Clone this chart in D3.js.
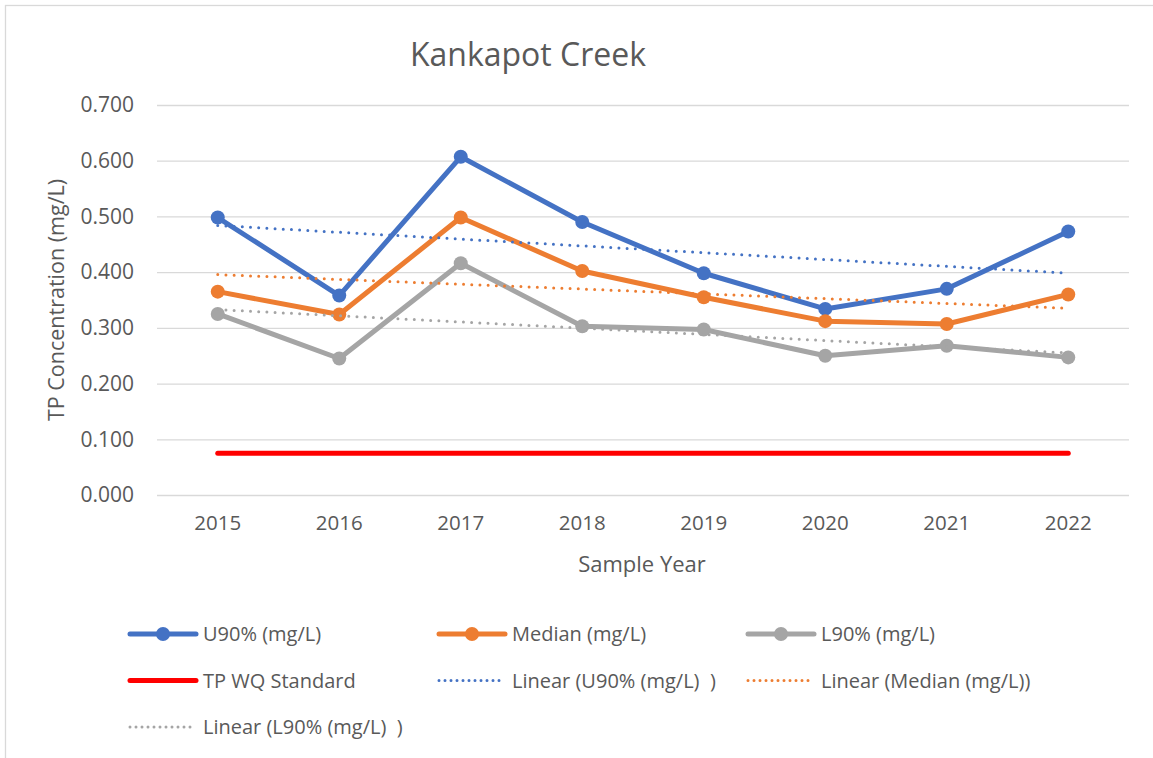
<!DOCTYPE html>
<html>
<head>
<meta charset="utf-8">
<script src="https://cdn.jsdelivr.net/npm/d3@7"></script>
<style>
  body { margin: 0; background: #fff; }
  svg { display: block; font-family: "Open Sans", sans-serif; }
</style>
</head>
<body>
<div id="chart"></div>
<script>
// values
var years = ['2015', '2016', '2017', '2018', '2019', '2020', '2021', '2022'];
var u90 = [0.498, 0.358, 0.607, 0.490, 0.398, 0.334, 0.370, 0.473];
var median = [0.365, 0.324, 0.498, 0.402, 0.355, 0.312, 0.307, 0.360];
var l90 = [0.325, 0.245, 0.416, 0.303, 0.297, 0.250, 0.268, 0.247];
var tpStandard = 0.075;
var yTicks = [0, 0.1, 0.2, 0.3, 0.4, 0.5, 0.6, 0.7];

var width = 1153, height = 758;
var textColor = '#595959';
var gridColor = '#d9d9d9';

var series = [
  { name: 'U90% (mg/L)', values: u90, color: '#4472c4' },
  { name: 'Median (mg/L)', values: median, color: '#ed7d31' },
  { name: 'L90% (mg/L)', values: l90, color: '#a5a5a5' }
];

// least squares trendline, like Excel's "Linear" trendline
function linearFit(vals) {
  var n = vals.length;
  var mx = d3.mean(vals, function(d, i) { return i; });
  var my = d3.mean(vals);
  var num = 0, den = 0;
  vals.forEach(function(v, i) { num += (i - mx) * (v - my); den += (i - mx) * (i - mx); });
  var slope = num / den;
  return [my - slope * mx, my + slope * (n - 1 - mx)];
}

var svg = d3.select('#chart').append('svg')
  .attr('width', width)
  .attr('height', height);

// chart area border
svg.append('rect')
  .attr('x', 5.5).attr('y', 5.5)
  .attr('width', 1160).attr('height', 770)
  .attr('fill', 'none')
  .attr('stroke', gridColor)
  .attr('stroke-width', 1.3);

var plot = { left: 157, right: 1129, top: 105, bottom: 495 };

var x = d3.scaleBand().domain(years).range([plot.left, plot.right]);
var cx = function(i) { return x(years[i]) + x.bandwidth() / 2; };
var y = d3.scaleLinear().domain([0, 0.7]).range([plot.bottom, plot.top]);

// y axis + gridlines
var yAxis = svg.append('g')
  .attr('transform', 'translate(' + plot.left + ',0)')
  .call(d3.axisLeft(y)
    .tickValues(yTicks)
    .tickFormat(d3.format('.3f'))
    .tickSize(-(plot.right - plot.left))
    .tickPadding(23));
yAxis.attr('font-family', null).attr('font-size', null);
yAxis.select('.domain').remove();
yAxis.selectAll('line').attr('stroke', gridColor).attr('stroke-width', 1.3);
yAxis.selectAll('text').attr('fill', textColor).style('font-size', '21px');

// x axis
var xAxis = svg.append('g')
  .attr('transform', 'translate(0,' + plot.bottom + ')')
  .call(d3.axisBottom(x).tickSize(0).tickPadding(20));
xAxis.attr('font-family', null).attr('font-size', null);
xAxis.select('.domain').remove();
xAxis.selectAll('text').attr('fill', textColor).style('font-size', '20.5px');

// titles
svg.append('text')
  .attr('x', 528).attr('y', 66)
  .attr('text-anchor', 'middle')
  .attr('fill', textColor)
  .style('font-size', '32px')
  .text('Kankapot Creek');

svg.append('text')
  .attr('x', 642).attr('y', 572)
  .attr('text-anchor', 'middle')
  .attr('fill', textColor)
  .style('font-size', '22px')
  .text('Sample Year');

svg.append('text')
  .attr('transform', 'translate(64,' + ((plot.top + plot.bottom) / 2) + ') rotate(-90)')
  .attr('text-anchor', 'middle')
  .attr('fill', textColor)
  .style('font-size', '21.5px')
  .text('TP Concentration (mg/L)');

var line = d3.line()
  .x(function(d, i) { return cx(i); })
  .y(function(d) { return y(d); });

// data series
series.forEach(function(s) {
  svg.append('path')
    .datum(s.values)
    .attr('d', line)
    .attr('fill', 'none')
    .attr('stroke', s.color)
    .attr('stroke-width', 5)
    .attr('stroke-linejoin', 'round')
    .attr('stroke-linecap', 'round');
  svg.selectAll(null)
    .data(s.values)
    .enter()
    .append('circle')
    .attr('cx', function(d, i) { return cx(i); })
    .attr('cy', function(d) { return y(d); })
    .attr('r', 7)
    .attr('fill', s.color);
});

// TP water quality standard
svg.append('line')
  .attr('x1', cx(0)).attr('x2', cx(years.length - 1))
  .attr('y1', y(tpStandard)).attr('y2', y(tpStandard))
  .attr('stroke', '#ff0000')
  .attr('stroke-width', 5)
  .attr('stroke-linecap', 'round');

// trendlines
series.forEach(function(s) {
  var fit = linearFit(s.values);
  svg.append('line')
    .attr('x1', cx(0)).attr('x2', cx(years.length - 1))
    .attr('y1', y(fit[0])).attr('y2', y(fit[1]))
    .attr('stroke', s.color)
    .attr('stroke-width', 3)
    .attr('stroke-linecap', 'round')
    .attr('stroke-dasharray', '0 8.2');
});

// legend
var legendItems = [
  { name: 'U90% (mg/L)', color: '#4472c4', type: 'marker' },
  { name: 'Median (mg/L)', color: '#ed7d31', type: 'marker' },
  { name: 'L90% (mg/L)', color: '#a5a5a5', type: 'marker' },
  { name: 'TP WQ Standard', color: '#ff0000', type: 'solid' },
  { name: 'Linear (U90% (mg/L)  )', color: '#4472c4', type: 'dot' },
  { name: 'Linear (Median (mg/L))', color: '#ed7d31', type: 'dot' },
  { name: 'Linear (L90% (mg/L)  )', color: '#a5a5a5', type: 'dot' }
];

var legend = svg.selectAll('.legend-item')
  .data(legendItems)
  .enter()
  .append('g')
  .attr('class', 'legend-item')
  .attr('transform', function(d, i) {
    return 'translate(' + (128 + (i % 3) * 309) + ',' + (634 + Math.floor(i / 3) * 46.5) + ')';
  });

legend.append('line')
  .attr('x1', 2)
  .attr('x2', 68)
  .attr('stroke', function(d) { return d.color; })
  .attr('stroke-width', function(d) { return d.type === 'dot' ? 3 : 5; })
  .attr('stroke-linecap', 'round')
  .attr('stroke-dasharray', function(d) { return d.type === 'dot' ? '0 6' : null; });

legend.filter(function(d) { return d.type === 'marker'; })
  .append('circle')
  .attr('cx', 35)
  .attr('r', 7)
  .attr('fill', function(d) { return d.color; });

legend.append('text')
  .attr('x', 75)
  .attr('dy', '0.35em')
  .attr('fill', textColor)
  .style('font-size', '20px')
  .style('white-space', 'pre')
  .text(function(d) { return d.name; });
</script>
</body>
</html>
